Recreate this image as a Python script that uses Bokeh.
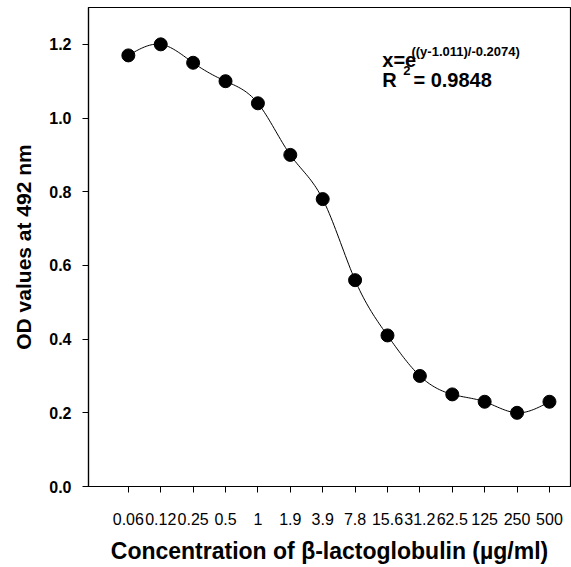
import numpy as np
from bokeh.plotting import figure
from bokeh.models import Label, FixedTicker, Range1d, PrintfTickFormatter
from bokeh.embed import file_html
from bokeh.resources import INLINE

concentrations = ["0.06", "0.12", "0.25", "0.5", "1", "1.9", "3.9", "7.8",
                  "15.6", "31.2", "62.5", "125", "250", "500"]
od_values = [1.17, 1.20, 1.15, 1.10, 1.04, 0.90, 0.78, 0.56,
             0.41, 0.30, 0.25, 0.23, 0.20, 0.23]
y_ticks = [0.0, 0.2, 0.4, 0.6, 0.8, 1.0, 1.2]

xs = np.arange(len(concentrations), dtype=float)
ys = np.array(od_values)

# natural cubic spline through the data points (for the drawn curve)
n = len(xs)
h = np.diff(xs)
A = np.zeros((n, n)); b = np.zeros(n)
A[0, 0] = 1; A[-1, -1] = 1
for i in range(1, n - 1):
    A[i, i - 1] = h[i - 1]; A[i, i] = 2 * (h[i - 1] + h[i]); A[i, i + 1] = h[i]
    b[i] = 3 * ((ys[i + 1] - ys[i]) / h[i] - (ys[i] - ys[i - 1]) / h[i - 1])
c = np.linalg.solve(A, b)
cx, cy = [], []
for i in range(n - 1):
    bi = (ys[i + 1] - ys[i]) / h[i] - h[i] * (c[i + 1] + 2 * c[i]) / 3
    di = (c[i + 1] - c[i]) / (3 * h[i])
    t = np.linspace(0, h[i], 20, endpoint=False)
    cx.extend(xs[i] + t)
    cy.extend(ys[i] + bi * t + c[i] * t ** 2 + di * t ** 3)
cx.append(xs[-1]); cy.append(ys[-1])

p = figure(width=571, height=567, output_backend="svg", toolbar_location=None,
           x_range=Range1d(-1.23, 13.65), y_range=Range1d(0, 1.3),
           min_border_left=88, min_border_right=1, min_border_top=7,
           min_border_bottom=81)
p.grid.visible = False
p.outline_line_color = "black"
p.outline_line_width = 1.2
p.background_fill_color = "white"
p.border_fill_color = "white"

p.line(cx, cy, line_color="black", line_width=1)
p.scatter(xs, ys, size=13, fill_color="black", line_color="black")

font = "Liberation Sans"
p.xaxis.ticker = FixedTicker(ticks=list(xs))
overrides = {float(i): s for i, s in enumerate(concentrations)}
overrides.update({int(i): s for i, s in enumerate(concentrations)})
p.xaxis.major_label_overrides = overrides
p.xaxis.minor_tick_line_color = None
p.xaxis.major_tick_in = 0
p.xaxis.major_tick_out = 6
p.xaxis.major_label_standoff = 20
p.xaxis.major_label_text_font = font
p.xaxis.major_label_text_font_size = "16px"
p.xaxis.axis_label = "Concentration of β-lactoglobulin (µg/ml)"
p.xaxis.axis_label_text_font = font
p.xaxis.axis_label_text_font_size = "23px"
p.xaxis.axis_label_text_font_style = "bold"
p.xaxis.axis_label_standoff = 10

p.yaxis.ticker = FixedTicker(ticks=y_ticks)
p.yaxis.formatter = PrintfTickFormatter(format="%.1f")
p.yaxis.minor_tick_line_color = None
p.yaxis.major_tick_in = 0
p.yaxis.major_tick_out = 6
p.yaxis.major_label_standoff = 11
p.yaxis.major_label_text_font = font
p.yaxis.major_label_text_font_size = "16px"
p.yaxis.major_label_text_font_style = "bold"
p.yaxis.axis_label = "OD values at 492 nm"
p.yaxis.axis_label_text_font = font
p.yaxis.axis_label_text_font_size = "21px"
p.yaxis.axis_label_text_font_style = "bold"
p.yaxis.axis_label_standoff = 11

for ax in (p.xaxis, p.yaxis):
    ax.axis_line_color = "black"
    ax.axis_line_width = 1.2
    ax.major_tick_line_color = "black"
    ax.major_label_text_color = "black"
    ax.axis_label_text_color = "black"

def lab(x, y, text, size):
    p.add_layout(Label(x=x, y=y, text=text, text_font=font, text_font_size=size,
                       text_font_style="bold", text_color="black",
                       text_align="left", text_baseline="middle"))

lab(7.84, 1.1570, "x=e", "20px")
lab(8.74, 1.1810, "((y-1.011)/-0.2074)", "13px")
lab(7.84, 1.1020, "R", "20px")
lab(8.49, 1.1290, "2", "13px")
lab(8.80, 1.1020, "= 0.9848", "20px")

open("out.html", "w").write(file_html(p, INLINE))
